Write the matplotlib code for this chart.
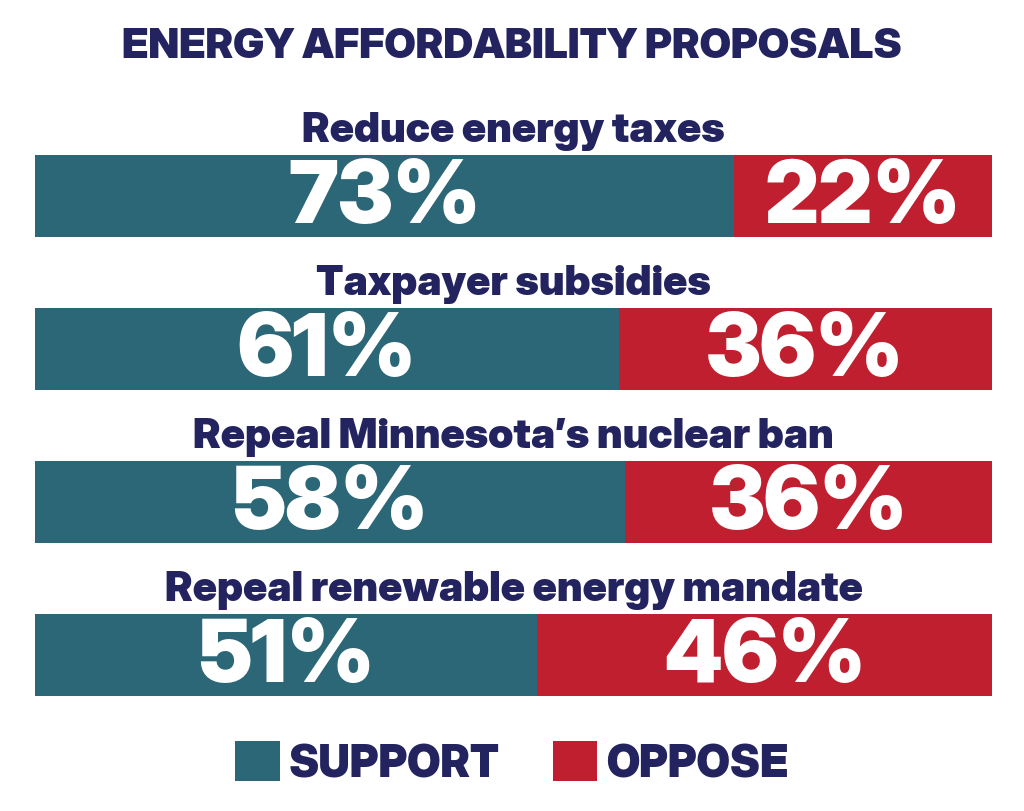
import matplotlib
matplotlib.use("Agg")
import matplotlib.pyplot as plt

# Survey results
questions = [
    "Reduce energy taxes",
    "Taxpayer subsidies",
    "Repeal Minnesota\u2019s nuclear ban",
    "Repeal renewable energy mandate",
]
support = [73, 61, 58, 51]
oppose = [22, 36, 36, 46]
# support share of each bar as drawn in the original graphic
support_share = [73, 61, 61.7, 52.5]

TEAL = "#2B6777"
RED = "#C01F2F"
NAVY = "#23235F"
FONT = "Inter Display"

plt.rcParams["font.family"] = [FONT, "DejaVu Sans"]

fig = plt.figure(figsize=(10.24, 8.12), dpi=100)
fig.patch.set_facecolor("white")

# axes spans the full height; bars sit at y = 0..3
ax = fig.add_axes([35 / 1024, 0, 957 / 1024, 1])
ax.set_xlim(0, 100)
ax.set_ylim(4.0196, -1.2876)
ax.axis("off")

ys = list(range(len(questions)))
rest = [100 - s for s in support_share]
ax.barh(ys, support_share, height=0.536, color=TEAL, label="SUPPORT")
ax.barh(ys, rest, left=support_share, height=0.536, color=RED, label="OPPOSE")

for y, q, s, o, sh in zip(ys, questions, support, oppose, support_share):
    ax.text(50, y - 0.43, q, ha="center", va="center", color=NAVY,
            fontsize=30, fontweight=900)
    ax.text(sh / 2, y + 0.025, f"{s}%", ha="center", va="center", color="white",
            fontsize=62, fontweight=900)
    ax.text(sh + (100 - sh) / 2, y + 0.025, f"{o}%", ha="center", va="center",
            color="white", fontsize=62, fontweight=900)

fig.text(0.5, 1 - 47 / 812, "ENERGY AFFORDABILITY PROPOSALS", ha="center",
         va="center", color=NAVY, fontsize=30, fontweight=900)

leg = fig.legend(loc="center", bbox_to_anchor=(0.5, 1 - 764 / 812), ncol=2,
                 frameon=False, handlelength=1.0, handleheight=1.0,
                 handletextpad=0.2, columnspacing=1.2,
                 prop={"family": FONT, "weight": 900, "size": 32})
for t in leg.get_texts():
    t.set_color(NAVY)

fig.savefig("out.png", dpi=100, facecolor="white")
